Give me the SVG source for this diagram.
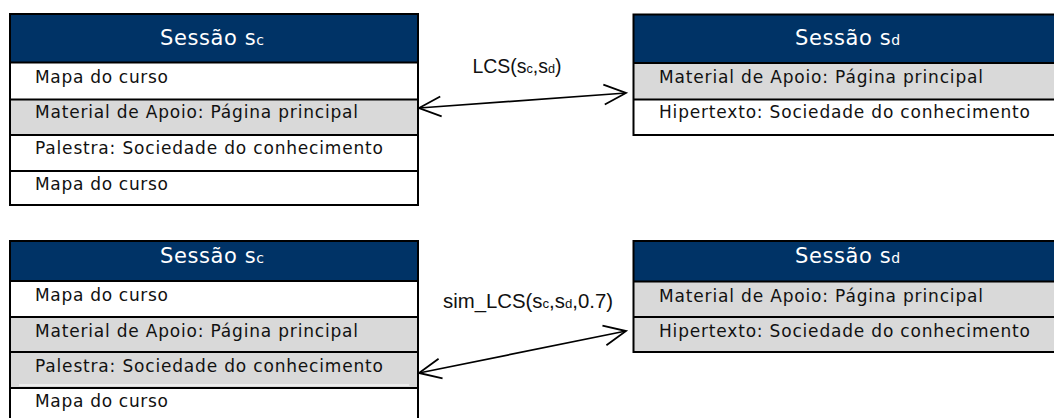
<svg xmlns="http://www.w3.org/2000/svg" width="1054" height="418" viewBox="0 0 1054 418">
<style>
.hdr{fill:#003366}
.wr{fill:#ffffff}
.gr{fill:#d9d9d9}
.bd{stroke:#000;stroke-width:2;fill:none}
.ht{font-family:"DejaVu Sans",sans-serif;font-size:21px;fill:#fff;letter-spacing:0.6px}
.hs{font-size:14px;letter-spacing:0}
.rt{font-family:"DejaVu Sans",sans-serif;font-size:17px;fill:#111}
.lb{font-family:"Liberation Sans",Arial,sans-serif;font-size:20px;fill:#111}
.sb{font-size:13px}
.cn{stroke:#000;stroke-width:1.7;fill:none}
</style>
<defs>
<marker id="ah" markerUnits="userSpaceOnUse" markerWidth="40" markerHeight="40" viewBox="-30 -20 40 40" refX="0" refY="0" orient="auto-start-reverse">
<path d="M-22,-10 L0,0 L-22,10" fill="none" stroke="#000" stroke-width="1.8"/>
</marker>
</defs>

<g id="sc-top">
<rect class="hdr" x="10" y="14" width="408" height="48.5"/>
<rect class="wr" x="10" y="62.5" width="408" height="37"/>
<rect class="gr" x="10" y="99.5" width="408" height="35.5"/>
<rect class="wr" x="10" y="135" width="408" height="36"/>
<rect class="wr" x="10" y="171" width="408" height="34"/>
<path class="bd" d="M10,14 H418 V205 H10 Z M10,62.5 H418 M10,99.5 H418 M10,135 H418 M10,171 H418"/>
<text class="ht" x="160" y="45">Sessão s<tspan class="hs">c</tspan></text>
<text class="rt" x="35" y="83" textLength="133" lengthAdjust="spacing">Mapa do curso</text>
<text class="rt" x="35" y="118" textLength="323" lengthAdjust="spacing">Material de Apoio: Página principal</text>
<text class="rt" x="35" y="154" textLength="348" lengthAdjust="spacing">Palestra: Sociedade do conhecimento</text>
<text class="rt" x="35" y="190" textLength="133" lengthAdjust="spacing">Mapa do curso</text>
</g>

<g id="sd-top">
<rect class="hdr" x="633.5" y="14.5" width="434" height="48.5"/>
<rect class="gr" x="633.5" y="63" width="434" height="36.5"/>
<rect class="wr" x="633.5" y="99.5" width="434" height="35.5"/>
<path class="bd" d="M1068,14.5 H633.5 V135 H1068 M633.5,63 H1068 M633.5,99.5 H1068"/>
<text class="ht" x="795" y="45">Sessão s<tspan class="hs">d</tspan></text>
<text class="rt" x="659" y="83" textLength="324" lengthAdjust="spacing">Material de Apoio: Página principal</text>
<text class="rt" x="659" y="118" textLength="371" lengthAdjust="spacing">Hipertexto: Sociedade do conhecimento</text>
</g>

<g id="sc-bottom">
<rect class="hdr" x="10" y="241" width="408" height="40"/>
<rect class="wr" x="10" y="281" width="408" height="36"/>
<rect class="gr" x="10" y="317" width="408" height="35"/>
<rect class="gr" x="10" y="352" width="408" height="36"/>
<rect class="wr" x="10" y="388" width="408" height="40"/>
<line x1="19" y1="385" x2="409" y2="385" stroke="#fff" stroke-width="1"/>
<path class="bd" d="M10,430 V241 H418 V430 M10,281 H418 M10,317 H418 M10,352 H418 M10,388 H418"/>
<text class="ht" x="160" y="263">Sessão s<tspan class="hs">c</tspan></text>
<text class="rt" x="35" y="301" textLength="133" lengthAdjust="spacing">Mapa do curso</text>
<text class="rt" x="35" y="337" textLength="323" lengthAdjust="spacing">Material de Apoio: Página principal</text>
<text class="rt" x="35" y="372" textLength="348" lengthAdjust="spacing">Palestra: Sociedade do conhecimento</text>
<text class="rt" x="35" y="407" textLength="133" lengthAdjust="spacing">Mapa do curso</text>
</g>

<g id="sd-bottom">
<rect class="hdr" x="633.5" y="241" width="434" height="40.5"/>
<rect class="gr" x="633.5" y="281.5" width="434" height="35.5"/>
<rect class="gr" x="633.5" y="317" width="434" height="35"/>
<path class="bd" d="M1068,241 H633.5 V352 H1068 M633.5,281.5 H1068 M633.5,317 H1068"/>
<text class="ht" x="795" y="263">Sessão s<tspan class="hs">d</tspan></text>
<text class="rt" x="659" y="302" textLength="324" lengthAdjust="spacing">Material de Apoio: Página principal</text>
<text class="rt" x="659" y="337" textLength="371" lengthAdjust="spacing">Hipertexto: Sociedade do conhecimento</text>
</g>

<g id="connectors">
<line class="cn" x1="419" y1="108" x2="626" y2="93" marker-start="url(#ah)" marker-end="url(#ah)"/>
<text class="lb" x="472.5" y="73" textLength="89" lengthAdjust="spacingAndGlyphs">LCS(s<tspan class="sb">c</tspan>,s<tspan class="sb">d</tspan>)</text>
<line class="cn" x1="419" y1="373" x2="626" y2="331" marker-start="url(#ah)" marker-end="url(#ah)"/>
<text class="lb" x="443" y="308" textLength="170" lengthAdjust="spacingAndGlyphs">sim_LCS(s<tspan class="sb">c</tspan>,s<tspan class="sb">d</tspan>,0.7)</text>
</g>
</svg>
